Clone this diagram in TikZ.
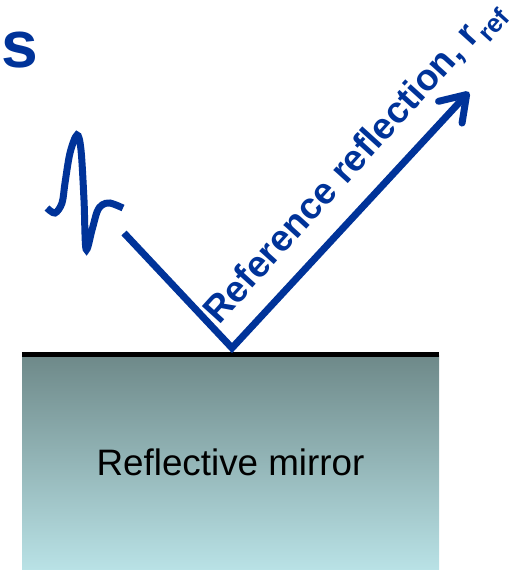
\documentclass[tikz,border=0pt]{standalone}
\usepackage{fontspec}
\setmainfont{Liberation Sans}
\usetikzlibrary{arrows.meta, positioning}
\definecolor{rayblue}{RGB}{0,51,153}
\definecolor{mirrortop}{RGB}{110,137,137}
\definecolor{mirrorbot}{RGB}{185,226,230}

\begin{document}
\begin{tikzpicture}[
  x=1pt, y=-1pt,
  ray/.style={rayblue, line width=7pt},
  mirrorbox/.style={rectangle, inner sep=0pt, minimum width=417pt, minimum height=215pt,
    top color=mirrortop, bottom color=mirrorbot, font=\fontsize{36.8}{44}\selectfont},
  raylabel/.style={text=rayblue, font=\fontsize{37}{44}\selectfont\bfseries,
    inner sep=0pt, anchor=base west, rotate=47.8},
  title/.style={text=rayblue, font=\fontsize{66}{70}\selectfont\bfseries,
    inner sep=0pt, anchor=base west}
]
\useasboundingbox (0,0) rectangle (520,570);

% Mirror
\node[mirrorbox] (mirror) at (230.5,462.5) {Reflective mirror};
\draw[line width=5pt] (mirror.north west) -- (mirror.north east);

% Title fragment
\node[title] (head) at (1,67) {s};

% Incoming pulse
\draw[ray] plot[smooth, tension=0.55] coordinates {
  (47,208) (55,213) (62,203) (65,183) (70,153) (77,135) (81,150)
  (84,200) (86,249) (92,230) (97,212) (102,205) (110,203) (123,208)};

% Rays
\coordinate (src) at (124,233);
\coordinate (hit) at (232,348);
\coordinate (tip) at (469,92);
\draw[ray, -{Straight Barb[length=24pt, width=32pt, round]}] (src) -- (hit) -- (tip);

% Label along reflected ray
\node[raylabel] (reflabel) at (219,326) {Reference reflection, r\textsubscript{ref}};

\end{tikzpicture}
\end{document}
